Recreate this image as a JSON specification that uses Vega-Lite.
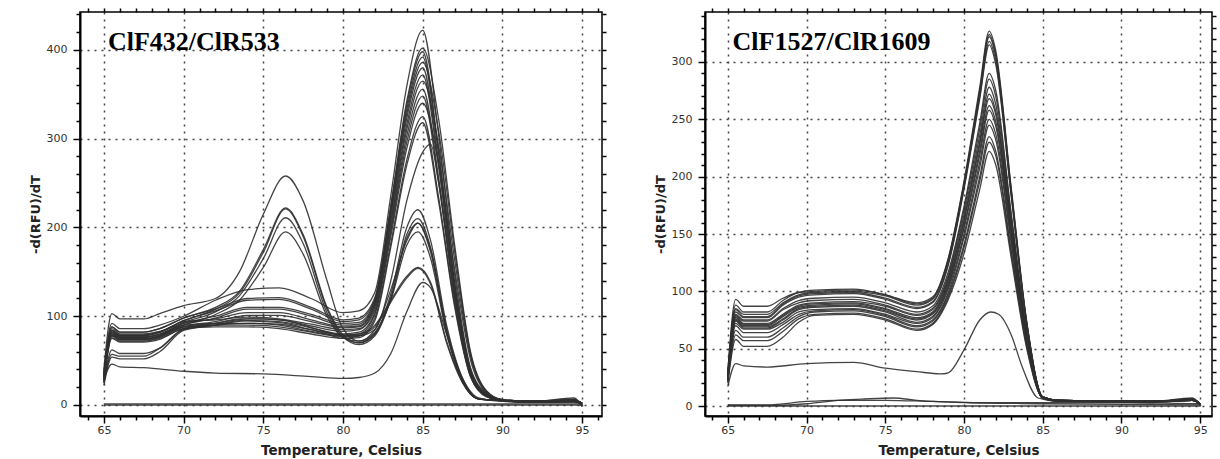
{
"$schema": "https://vega.github.io/schema/vega-lite/v6.json",
"background": "white",
"padding": {"left": 28, "top": 6, "right": 2, "bottom": 0},
"spacing": 45,
"config": {
 "view": {"stroke": "#000", "strokeWidth": 1.5},
 "axis": {"domainColor": "#000", "domainWidth": 2, "tickColor": "#000", "tickWidth": 1.5, "gridColor": "#444", "gridDash": [2, 5], "gridWidth": 1.5, "labelFont": "DejaVu Sans", "labelFontSize": 11, "labelColor": "#333", "labelPadding": 6, "titleFont": "DejaVu Sans", "titleFontSize": 13, "titleFontWeight": "bold", "titleColor": "#222", "labelOverlap": false, "labelFlush": false},
 "axisX": {"labelPadding": 1, "titlePadding": 8, "titleFontSize": 13.5},
 "axisY": {"titlePadding": 4}
},
"datasets": {
"L": [
{"c":1,"t":65,"v":38},{"c":1,"t":65.5,"v":92},{"c":1,"t":66,"v":86},{"c":1,"t":67.5,"v":86},{"c":1,"t":68.5,"v":90},{"c":1,"t":70,"v":100},{"c":1,"t":72,"v":118},{"c":1,"t":74,"v":130},{"c":1,"t":76,"v":132},{"c":1,"t":78,"v":120},{"c":1,"t":80,"v":104},{"c":1,"t":81,"v":106},{"c":1,"t":82,"v":127},{"c":1,"t":83,"v":236},{"c":1,"t":84,"v":359},{"c":1,"t":85,"v":422},{"c":1,"t":86,"v":304},{"c":1,"t":87,"v":148},{"c":1,"t":88,"v":42},{"c":1,"t":89,"v":13},{"c":1,"t":90,"v":5},{"c":1,"t":92,"v":4},{"c":1,"t":94.5,"v":5},{"c":1,"t":95,"v":2},
{"c":2,"t":65,"v":35},{"c":2,"t":65.5,"v":88},{"c":2,"t":66,"v":82},{"c":2,"t":67.5,"v":82},{"c":2,"t":68.5,"v":86},{"c":2,"t":70,"v":98},{"c":2,"t":72,"v":108},{"c":2,"t":74,"v":120},{"c":2,"t":76,"v":121},{"c":2,"t":78,"v":110},{"c":2,"t":80,"v":96},{"c":2,"t":81,"v":98},{"c":2,"t":82,"v":121},{"c":2,"t":83,"v":225},{"c":2,"t":84,"v":342},{"c":2,"t":85,"v":402},{"c":2,"t":86,"v":322},{"c":2,"t":87,"v":181},{"c":2,"t":88,"v":60},{"c":2,"t":89,"v":16},{"c":2,"t":90,"v":6},{"c":2,"t":92,"v":4},{"c":2,"t":94.5,"v":6},{"c":2,"t":95,"v":2},
{"c":3,"t":65,"v":32},{"c":3,"t":65.5,"v":84},{"c":3,"t":66,"v":78},{"c":3,"t":67.5,"v":78},{"c":3,"t":68.5,"v":82},{"c":3,"t":70,"v":95},{"c":3,"t":72,"v":106},{"c":3,"t":74,"v":118},{"c":3,"t":76,"v":119},{"c":3,"t":78,"v":108},{"c":3,"t":80,"v":94},{"c":3,"t":81,"v":96},{"c":3,"t":82,"v":119},{"c":3,"t":83,"v":223},{"c":3,"t":84,"v":338},{"c":3,"t":85,"v":398},{"c":3,"t":86,"v":287},{"c":3,"t":87,"v":139},{"c":3,"t":88,"v":40},{"c":3,"t":89,"v":12},{"c":3,"t":90,"v":5},{"c":3,"t":92,"v":4},{"c":3,"t":94.5,"v":5},{"c":3,"t":95,"v":2},
{"c":4,"t":65,"v":30},{"c":4,"t":65.5,"v":86},{"c":4,"t":66,"v":80},{"c":4,"t":67.5,"v":80},{"c":4,"t":68.5,"v":83},{"c":4,"t":70,"v":92},{"c":4,"t":72,"v":100},{"c":4,"t":74,"v":110},{"c":4,"t":76,"v":110},{"c":4,"t":78,"v":102},{"c":4,"t":80,"v":92},{"c":4,"t":81,"v":93},{"c":4,"t":82,"v":118},{"c":4,"t":83,"v":220},{"c":4,"t":84,"v":333},{"c":4,"t":85,"v":392},{"c":4,"t":86,"v":282},{"c":4,"t":87,"v":137},{"c":4,"t":88,"v":39},{"c":4,"t":89,"v":12},{"c":4,"t":90,"v":5},{"c":4,"t":92,"v":3},{"c":4,"t":94.5,"v":4},{"c":4,"t":95,"v":1},
{"c":5,"t":65,"v":34},{"c":5,"t":65.5,"v":82},{"c":5,"t":66,"v":76},{"c":5,"t":67.5,"v":76},{"c":5,"t":68.5,"v":79},{"c":5,"t":70,"v":90},{"c":5,"t":72,"v":98},{"c":5,"t":74,"v":108},{"c":5,"t":76,"v":108},{"c":5,"t":78,"v":100},{"c":5,"t":80,"v":90},{"c":5,"t":81,"v":91},{"c":5,"t":82,"v":116},{"c":5,"t":83,"v":216},{"c":5,"t":84,"v":328},{"c":5,"t":85,"v":386},{"c":5,"t":86,"v":309},{"c":5,"t":87,"v":174},{"c":5,"t":88,"v":58},{"c":5,"t":89,"v":15},{"c":5,"t":90,"v":6},{"c":5,"t":92,"v":4},{"c":5,"t":94.5,"v":8},{"c":5,"t":95,"v":-2},
{"c":6,"t":65,"v":30},{"c":6,"t":65.5,"v":80},{"c":6,"t":66,"v":75},{"c":6,"t":67.5,"v":75},{"c":6,"t":68.5,"v":78},{"c":6,"t":70,"v":92},{"c":6,"t":72,"v":97},{"c":6,"t":74,"v":104},{"c":6,"t":76,"v":104},{"c":6,"t":78,"v":96},{"c":6,"t":80,"v":88},{"c":6,"t":81,"v":89},{"c":6,"t":82,"v":114},{"c":6,"t":83,"v":213},{"c":6,"t":84,"v":323},{"c":6,"t":85,"v":380},{"c":6,"t":86,"v":274},{"c":6,"t":87,"v":133},{"c":6,"t":88,"v":38},{"c":6,"t":89,"v":11},{"c":6,"t":90,"v":5},{"c":6,"t":92,"v":4},{"c":6,"t":94.5,"v":5},{"c":6,"t":95,"v":2},
{"c":7,"t":65,"v":33},{"c":7,"t":65.5,"v":78},{"c":7,"t":66,"v":73},{"c":7,"t":67.5,"v":73},{"c":7,"t":68.5,"v":76},{"c":7,"t":70,"v":88},{"c":7,"t":72,"v":94},{"c":7,"t":74,"v":101},{"c":7,"t":76,"v":101},{"c":7,"t":78,"v":94},{"c":7,"t":80,"v":87},{"c":7,"t":81,"v":88},{"c":7,"t":82,"v":112},{"c":7,"t":83,"v":208},{"c":7,"t":84,"v":316},{"c":7,"t":85,"v":372},{"c":7,"t":86,"v":268},{"c":7,"t":87,"v":130},{"c":7,"t":88,"v":37},{"c":7,"t":89,"v":11},{"c":7,"t":90,"v":5},{"c":7,"t":92,"v":3},{"c":7,"t":94.5,"v":4},{"c":7,"t":95,"v":1},
{"c":8,"t":65,"v":28},{"c":8,"t":65.5,"v":84},{"c":8,"t":66,"v":79},{"c":8,"t":67.5,"v":79},{"c":8,"t":68.5,"v":82},{"c":8,"t":70,"v":94},{"c":8,"t":72,"v":96},{"c":8,"t":74,"v":99},{"c":8,"t":76,"v":97},{"c":8,"t":78,"v":91},{"c":8,"t":80,"v":85},{"c":8,"t":81,"v":86},{"c":8,"t":82,"v":110},{"c":8,"t":83,"v":204},{"c":8,"t":84,"v":310},{"c":8,"t":85,"v":365},{"c":8,"t":86,"v":292},{"c":8,"t":87,"v":164},{"c":8,"t":88,"v":55},{"c":8,"t":89,"v":15},{"c":8,"t":90,"v":6},{"c":8,"t":92,"v":4},{"c":8,"t":94.5,"v":6},{"c":8,"t":95,"v":0},
{"c":9,"t":65,"v":31},{"c":9,"t":65.5,"v":80},{"c":9,"t":66,"v":74},{"c":9,"t":67.5,"v":74},{"c":9,"t":68.5,"v":77},{"c":9,"t":70,"v":88},{"c":9,"t":72,"v":92},{"c":9,"t":74,"v":97},{"c":9,"t":76,"v":96},{"c":9,"t":78,"v":89},{"c":9,"t":80,"v":83},{"c":9,"t":81,"v":85},{"c":9,"t":82,"v":107},{"c":9,"t":83,"v":199},{"c":9,"t":84,"v":303},{"c":9,"t":85,"v":356},{"c":9,"t":86,"v":256},{"c":9,"t":87,"v":125},{"c":9,"t":88,"v":36},{"c":9,"t":89,"v":11},{"c":9,"t":90,"v":5},{"c":9,"t":92,"v":4},{"c":9,"t":94.5,"v":5},{"c":9,"t":95,"v":2},
{"c":10,"t":65,"v":29},{"c":10,"t":65.5,"v":76},{"c":10,"t":66,"v":72},{"c":10,"t":67.5,"v":72},{"c":10,"t":68.5,"v":75},{"c":10,"t":70,"v":86},{"c":10,"t":72,"v":90},{"c":10,"t":74,"v":95},{"c":10,"t":76,"v":94},{"c":10,"t":78,"v":87},{"c":10,"t":80,"v":80},{"c":10,"t":81,"v":82},{"c":10,"t":82,"v":104},{"c":10,"t":83,"v":195},{"c":10,"t":84,"v":296},{"c":10,"t":85,"v":348},{"c":10,"t":86,"v":251},{"c":10,"t":87,"v":122},{"c":10,"t":88,"v":35},{"c":10,"t":89,"v":10},{"c":10,"t":90,"v":5},{"c":10,"t":92,"v":3},{"c":10,"t":94.5,"v":4},{"c":10,"t":95,"v":1},
{"c":11,"t":65,"v":27},{"c":11,"t":65.5,"v":82},{"c":11,"t":66,"v":77},{"c":11,"t":67.5,"v":77},{"c":11,"t":68.5,"v":80},{"c":11,"t":70,"v":90},{"c":11,"t":72,"v":92},{"c":11,"t":74,"v":92},{"c":11,"t":76,"v":91},{"c":11,"t":78,"v":85},{"c":11,"t":80,"v":79},{"c":11,"t":81,"v":80},{"c":11,"t":82,"v":102},{"c":11,"t":83,"v":190},{"c":11,"t":84,"v":289},{"c":11,"t":85,"v":340},{"c":11,"t":86,"v":272},{"c":11,"t":87,"v":153},{"c":11,"t":88,"v":51},{"c":11,"t":89,"v":14},{"c":11,"t":90,"v":6},{"c":11,"t":92,"v":4},{"c":11,"t":94.5,"v":7},{"c":11,"t":95,"v":-1},
{"c":12,"t":65,"v":30},{"c":12,"t":65.5,"v":78},{"c":12,"t":66,"v":74},{"c":12,"t":67.5,"v":74},{"c":12,"t":68.5,"v":77},{"c":12,"t":70,"v":88},{"c":12,"t":72,"v":90},{"c":12,"t":74,"v":90},{"c":12,"t":76,"v":88},{"c":12,"t":78,"v":82},{"c":12,"t":80,"v":77},{"c":12,"t":81,"v":78},{"c":12,"t":82,"v":98},{"c":12,"t":83,"v":182},{"c":12,"t":84,"v":276},{"c":12,"t":85,"v":325},{"c":12,"t":86,"v":234},{"c":12,"t":87,"v":114},{"c":12,"t":88,"v":33},{"c":12,"t":89,"v":10},{"c":12,"t":90,"v":5},{"c":12,"t":92,"v":4},{"c":12,"t":94.5,"v":5},{"c":12,"t":95,"v":2},
{"c":13,"t":65,"v":26},{"c":13,"t":65.5,"v":75},{"c":13,"t":66,"v":71},{"c":13,"t":67.5,"v":71},{"c":13,"t":68.5,"v":74},{"c":13,"t":70,"v":86},{"c":13,"t":72,"v":88},{"c":13,"t":74,"v":88},{"c":13,"t":76,"v":86},{"c":13,"t":78,"v":80},{"c":13,"t":80,"v":75},{"c":13,"t":81,"v":76},{"c":13,"t":82,"v":95},{"c":13,"t":83,"v":178},{"c":13,"t":84,"v":270},{"c":13,"t":85,"v":318},{"c":13,"t":86,"v":229},{"c":13,"t":87,"v":111},{"c":13,"t":88,"v":32},{"c":13,"t":89,"v":10},{"c":13,"t":90,"v":5},{"c":13,"t":92,"v":3},{"c":13,"t":94.5,"v":4},{"c":13,"t":95,"v":1},
{"c":14,"t":65,"v":25},{"c":14,"t":65.5,"v":62},{"c":14,"t":66,"v":58},{"c":14,"t":67.5,"v":58},{"c":14,"t":68.5,"v":64},{"c":14,"t":70,"v":85},{"c":14,"t":72,"v":90},{"c":14,"t":74,"v":92},{"c":14,"t":76,"v":90},{"c":14,"t":78,"v":83},{"c":14,"t":80,"v":78},{"c":14,"t":81,"v":78},{"c":14,"t":82,"v":85},{"c":14,"t":83,"v":140},{"c":14,"t":84,"v":230},{"c":14,"t":85,"v":285},{"c":14,"t":85.5,"v":294},{"c":14,"t":86,"v":250},{"c":14,"t":87,"v":120},{"c":14,"t":88,"v":32},{"c":14,"t":89,"v":9},{"c":14,"t":90,"v":5},{"c":14,"t":92,"v":4},{"c":14,"t":94.5,"v":5},{"c":14,"t":95,"v":2},
{"c":15,"t":65,"v":40},{"c":15,"t":65.5,"v":103},{"c":15,"t":66,"v":97},{"c":15,"t":67.5,"v":97},{"c":15,"t":68.5,"v":103},{"c":15,"t":70,"v":112},{"c":15,"t":72,"v":120},{"c":15,"t":73.5,"v":150},{"c":15,"t":75,"v":215},{"c":15,"t":76.4,"v":258},{"c":15,"t":77.5,"v":230},{"c":15,"t":79,"v":140},{"c":15,"t":80,"v":86},{"c":15,"t":81,"v":72},{"c":15,"t":82,"v":85},{"c":15,"t":83,"v":130},{"c":15,"t":84,"v":185},{"c":15,"t":84.7,"v":205},{"c":15,"t":85.5,"v":175},{"c":15,"t":86.5,"v":85},{"c":15,"t":87.5,"v":28},{"c":15,"t":88.5,"v":7},{"c":15,"t":90,"v":5},{"c":15,"t":92,"v":4},{"c":15,"t":94.5,"v":5},{"c":15,"t":95,"v":2},
{"c":16,"t":65,"v":35},{"c":16,"t":65.5,"v":88},{"c":16,"t":66,"v":82},{"c":16,"t":67.5,"v":82},{"c":16,"t":68.5,"v":86},{"c":16,"t":70,"v":98},{"c":16,"t":72,"v":110},{"c":16,"t":73.5,"v":128},{"c":16,"t":75,"v":175},{"c":16,"t":76.4,"v":222},{"c":16,"t":77.5,"v":192},{"c":16,"t":79,"v":110},{"c":16,"t":80,"v":79},{"c":16,"t":81,"v":70},{"c":16,"t":82,"v":80},{"c":16,"t":83,"v":125},{"c":16,"t":84,"v":200},{"c":16,"t":84.7,"v":220},{"c":16,"t":85.5,"v":185},{"c":16,"t":86.5,"v":90},{"c":16,"t":87.5,"v":30},{"c":16,"t":88.5,"v":7},{"c":16,"t":90,"v":5},{"c":16,"t":92,"v":4},{"c":16,"t":94.5,"v":5},{"c":16,"t":95,"v":2},
{"c":17,"t":65,"v":32},{"c":17,"t":65.5,"v":84},{"c":17,"t":66,"v":78},{"c":17,"t":67.5,"v":78},{"c":17,"t":68.5,"v":82},{"c":17,"t":70,"v":95},{"c":17,"t":72,"v":108},{"c":17,"t":73.5,"v":126},{"c":17,"t":75,"v":172},{"c":17,"t":76.4,"v":221},{"c":17,"t":77.5,"v":190},{"c":17,"t":79,"v":108},{"c":17,"t":80,"v":77},{"c":17,"t":81,"v":68},{"c":17,"t":82,"v":78},{"c":17,"t":83,"v":120},{"c":17,"t":84,"v":192},{"c":17,"t":84.7,"v":210},{"c":17,"t":85.5,"v":177},{"c":17,"t":86.5,"v":85},{"c":17,"t":87.5,"v":28},{"c":17,"t":88.5,"v":7},{"c":17,"t":90,"v":5},{"c":17,"t":92,"v":3},{"c":17,"t":94.5,"v":4},{"c":17,"t":95,"v":1},
{"c":18,"t":65,"v":33},{"c":18,"t":65.5,"v":82},{"c":18,"t":66,"v":76},{"c":18,"t":67.5,"v":76},{"c":18,"t":68.5,"v":80},{"c":18,"t":70,"v":93},{"c":18,"t":72,"v":105},{"c":18,"t":73.5,"v":123},{"c":18,"t":75,"v":165},{"c":18,"t":76.4,"v":211},{"c":18,"t":77.5,"v":182},{"c":18,"t":79,"v":104},{"c":18,"t":80,"v":76},{"c":18,"t":81,"v":70},{"c":18,"t":82,"v":80},{"c":18,"t":83,"v":120},{"c":18,"t":84,"v":188},{"c":18,"t":84.7,"v":205},{"c":18,"t":85.5,"v":172},{"c":18,"t":86.5,"v":83},{"c":18,"t":87.5,"v":27},{"c":18,"t":88.5,"v":7},{"c":18,"t":90,"v":5},{"c":18,"t":92,"v":4},{"c":18,"t":94.5,"v":6},{"c":18,"t":95,"v":0},
{"c":19,"t":65,"v":30},{"c":19,"t":65.5,"v":80},{"c":19,"t":66,"v":74},{"c":19,"t":67.5,"v":74},{"c":19,"t":68.5,"v":78},{"c":19,"t":70,"v":90},{"c":19,"t":72,"v":102},{"c":19,"t":73.5,"v":118},{"c":19,"t":75,"v":155},{"c":19,"t":76.4,"v":195},{"c":19,"t":77.5,"v":170},{"c":19,"t":79,"v":100},{"c":19,"t":80,"v":76},{"c":19,"t":81,"v":72},{"c":19,"t":82,"v":82},{"c":19,"t":83,"v":118},{"c":19,"t":84,"v":180},{"c":19,"t":84.7,"v":195},{"c":19,"t":85.5,"v":165},{"c":19,"t":86.5,"v":80},{"c":19,"t":87.5,"v":26},{"c":19,"t":88.5,"v":7},{"c":19,"t":90,"v":5},{"c":19,"t":92,"v":4},{"c":19,"t":94.5,"v":5},{"c":19,"t":95,"v":2},
{"c":20,"t":65,"v":25},{"c":20,"t":65.5,"v":57},{"c":20,"t":66,"v":55},{"c":20,"t":67.5,"v":55},{"c":20,"t":68.5,"v":64},{"c":20,"t":70,"v":86},{"c":20,"t":72,"v":92},{"c":20,"t":73.5,"v":97},{"c":20,"t":75,"v":97},{"c":20,"t":76.4,"v":95},{"c":20,"t":77.5,"v":90},{"c":20,"t":79,"v":82},{"c":20,"t":80,"v":78},{"c":20,"t":81,"v":80},{"c":20,"t":82,"v":90},{"c":20,"t":83,"v":118},{"c":20,"t":84,"v":145},{"c":20,"t":84.7,"v":155},{"c":20,"t":85.5,"v":138},{"c":20,"t":86.5,"v":72},{"c":20,"t":87.5,"v":26},{"c":20,"t":88.5,"v":7},{"c":20,"t":90,"v":5},{"c":20,"t":92,"v":4},{"c":20,"t":94.5,"v":5},{"c":20,"t":95,"v":2},
{"c":21,"t":65,"v":22},{"c":21,"t":65.5,"v":54},{"c":21,"t":66,"v":52},{"c":21,"t":67.5,"v":52},{"c":21,"t":68.5,"v":60},{"c":21,"t":70,"v":84},{"c":21,"t":72,"v":90},{"c":21,"t":73.5,"v":95},{"c":21,"t":75,"v":94},{"c":21,"t":76.4,"v":92},{"c":21,"t":77.5,"v":87},{"c":21,"t":79,"v":80},{"c":21,"t":80,"v":75},{"c":21,"t":81,"v":78},{"c":21,"t":82,"v":88},{"c":21,"t":83,"v":116},{"c":21,"t":84,"v":143},{"c":21,"t":84.7,"v":154},{"c":21,"t":85.5,"v":136},{"c":21,"t":86.5,"v":70},{"c":21,"t":87.5,"v":25},{"c":21,"t":88.5,"v":7},{"c":21,"t":90,"v":5},{"c":21,"t":92,"v":3},{"c":21,"t":94.5,"v":4},{"c":21,"t":95,"v":1},
{"c":22,"t":65,"v":28},{"c":22,"t":65.5,"v":46},{"c":22,"t":66,"v":43},{"c":22,"t":67.5,"v":42},{"c":22,"t":70,"v":38},{"c":22,"t":72,"v":36},{"c":22,"t":75,"v":35},{"c":22,"t":78,"v":32},{"c":22,"t":80,"v":30},{"c":22,"t":81,"v":31},{"c":22,"t":82,"v":36},{"c":22,"t":83,"v":58},{"c":22,"t":84,"v":105},{"c":22,"t":85,"v":138},{"c":22,"t":85.5,"v":132},{"c":22,"t":86.5,"v":80},{"c":22,"t":87.5,"v":30},{"c":22,"t":88.5,"v":8},{"c":22,"t":90,"v":4},{"c":22,"t":92,"v":3},{"c":22,"t":94.5,"v":3},{"c":22,"t":95,"v":2},
{"c":23,"t":65,"v":0},{"c":23,"t":95,"v":0},
{"c":24,"t":65,"v":1.2},{"c":24,"t":95,"v":1.2}
],
"R": [
{"c":1,"t":65,"v":30},{"c":1,"t":65.5,"v":93},{"c":1,"t":66,"v":87},{"c":1,"t":67.5,"v":87},{"c":1,"t":68.5,"v":94},{"c":1,"t":69.5,"v":99},{"c":1,"t":70.5,"v":100},{"c":1,"t":73,"v":101},{"c":1,"t":75,"v":97},{"c":1,"t":77,"v":90},{"c":1,"t":78,"v":95},{"c":1,"t":79,"v":129},{"c":1,"t":80,"v":196},{"c":1,"t":81,"v":278},{"c":1,"t":81.6,"v":327},{"c":1,"t":82,"v":311},{"c":1,"t":83,"v":190},{"c":1,"t":84,"v":72},{"c":1,"t":85,"v":8},{"c":1,"t":86,"v":5},{"c":1,"t":92,"v":4},{"c":1,"t":94.5,"v":6},{"c":1,"t":95,"v":2},
{"c":2,"t":65,"v":29},{"c":2,"t":65.5,"v":88},{"c":2,"t":66,"v":82},{"c":2,"t":67.5,"v":82},{"c":2,"t":68.5,"v":92},{"c":2,"t":69.5,"v":99},{"c":2,"t":70.5,"v":101},{"c":2,"t":73,"v":102},{"c":2,"t":75,"v":97},{"c":2,"t":77,"v":89},{"c":2,"t":78,"v":94},{"c":2,"t":79,"v":128},{"c":2,"t":80,"v":194},{"c":2,"t":81,"v":275},{"c":2,"t":81.6,"v":324},{"c":2,"t":82,"v":308},{"c":2,"t":83,"v":188},{"c":2,"t":84,"v":71},{"c":2,"t":85,"v":8},{"c":2,"t":86,"v":5},{"c":2,"t":92,"v":4},{"c":2,"t":94.5,"v":6},{"c":2,"t":95,"v":2},
{"c":3,"t":65,"v":28},{"c":3,"t":65.5,"v":85},{"c":3,"t":66,"v":80},{"c":3,"t":67.5,"v":80},{"c":3,"t":68.5,"v":90},{"c":3,"t":69.5,"v":97},{"c":3,"t":70.5,"v":99},{"c":3,"t":73,"v":100},{"c":3,"t":75,"v":96},{"c":3,"t":77,"v":88},{"c":3,"t":78,"v":93},{"c":3,"t":79,"v":127},{"c":3,"t":80,"v":193},{"c":3,"t":81,"v":274},{"c":3,"t":81.6,"v":322},{"c":3,"t":82,"v":306},{"c":3,"t":83,"v":187},{"c":3,"t":84,"v":71},{"c":3,"t":85,"v":8},{"c":3,"t":86,"v":5},{"c":3,"t":92,"v":4},{"c":3,"t":94.5,"v":7},{"c":3,"t":95,"v":1},
{"c":4,"t":65,"v":27},{"c":4,"t":65.5,"v":84},{"c":4,"t":66,"v":78},{"c":4,"t":67.5,"v":78},{"c":4,"t":68.5,"v":89},{"c":4,"t":69.5,"v":96},{"c":4,"t":70.5,"v":98},{"c":4,"t":73,"v":99},{"c":4,"t":75,"v":94},{"c":4,"t":77,"v":86},{"c":4,"t":78,"v":91},{"c":4,"t":79,"v":124},{"c":4,"t":80,"v":191},{"c":4,"t":81,"v":270},{"c":4,"t":81.6,"v":318},{"c":4,"t":82,"v":302},{"c":4,"t":83,"v":184},{"c":4,"t":84,"v":70},{"c":4,"t":85,"v":8},{"c":4,"t":86,"v":5},{"c":4,"t":92,"v":4},{"c":4,"t":94.5,"v":5},{"c":4,"t":95,"v":2},
{"c":5,"t":65,"v":27},{"c":5,"t":65.5,"v":82},{"c":5,"t":66,"v":77},{"c":5,"t":67.5,"v":77},{"c":5,"t":68.5,"v":88},{"c":5,"t":69.5,"v":95},{"c":5,"t":70.5,"v":97},{"c":5,"t":73,"v":98},{"c":5,"t":75,"v":93},{"c":5,"t":77,"v":85},{"c":5,"t":78,"v":90},{"c":5,"t":79,"v":123},{"c":5,"t":80,"v":189},{"c":5,"t":81,"v":268},{"c":5,"t":81.6,"v":315},{"c":5,"t":82,"v":299},{"c":5,"t":83,"v":183},{"c":5,"t":84,"v":69},{"c":5,"t":85,"v":8},{"c":5,"t":86,"v":5},{"c":5,"t":92,"v":4},{"c":5,"t":94.5,"v":6},{"c":5,"t":95,"v":2},
{"c":6,"t":65,"v":26},{"c":6,"t":65.5,"v":80},{"c":6,"t":66,"v":75},{"c":6,"t":67.5,"v":75},{"c":6,"t":68.5,"v":85},{"c":6,"t":69.5,"v":92},{"c":6,"t":70.5,"v":94},{"c":6,"t":73,"v":95},{"c":6,"t":75,"v":90},{"c":6,"t":77,"v":82},{"c":6,"t":78,"v":87},{"c":6,"t":79,"v":117},{"c":6,"t":80,"v":174},{"c":6,"t":81,"v":247},{"c":6,"t":81.6,"v":290},{"c":6,"t":82,"v":276},{"c":6,"t":83,"v":168},{"c":6,"t":84,"v":64},{"c":6,"t":85,"v":7},{"c":6,"t":86,"v":5},{"c":6,"t":92,"v":4},{"c":6,"t":94.5,"v":5},{"c":6,"t":95,"v":2},
{"c":7,"t":65,"v":26},{"c":7,"t":65.5,"v":79},{"c":7,"t":66,"v":74},{"c":7,"t":67.5,"v":74},{"c":7,"t":68.5,"v":84},{"c":7,"t":69.5,"v":90},{"c":7,"t":70.5,"v":92},{"c":7,"t":73,"v":93},{"c":7,"t":75,"v":88},{"c":7,"t":77,"v":80},{"c":7,"t":78,"v":85},{"c":7,"t":79,"v":114},{"c":7,"t":80,"v":171},{"c":7,"t":81,"v":242},{"c":7,"t":81.6,"v":285},{"c":7,"t":82,"v":271},{"c":7,"t":83,"v":165},{"c":7,"t":84,"v":63},{"c":7,"t":85,"v":7},{"c":7,"t":86,"v":5},{"c":7,"t":92,"v":4},{"c":7,"t":94.5,"v":6},{"c":7,"t":95,"v":1},
{"c":8,"t":65,"v":25},{"c":8,"t":65.5,"v":78},{"c":8,"t":66,"v":72},{"c":8,"t":67.5,"v":72},{"c":8,"t":68.5,"v":80},{"c":8,"t":69.5,"v":88},{"c":8,"t":70.5,"v":90},{"c":8,"t":73,"v":91},{"c":8,"t":75,"v":87},{"c":8,"t":77,"v":79},{"c":8,"t":78,"v":84},{"c":8,"t":79,"v":112},{"c":8,"t":80,"v":167},{"c":8,"t":81,"v":236},{"c":8,"t":81.6,"v":278},{"c":8,"t":82,"v":264},{"c":8,"t":83,"v":161},{"c":8,"t":84,"v":61},{"c":8,"t":85,"v":7},{"c":8,"t":86,"v":5},{"c":8,"t":92,"v":4},{"c":8,"t":94.5,"v":5},{"c":8,"t":95,"v":2},
{"c":9,"t":65,"v":25},{"c":9,"t":65.5,"v":77},{"c":9,"t":66,"v":71},{"c":9,"t":67.5,"v":71},{"c":9,"t":68.5,"v":79},{"c":9,"t":69.5,"v":87},{"c":9,"t":70.5,"v":89},{"c":9,"t":73,"v":90},{"c":9,"t":75,"v":85},{"c":9,"t":77,"v":77},{"c":9,"t":78,"v":82},{"c":9,"t":79,"v":110},{"c":9,"t":80,"v":163},{"c":9,"t":81,"v":231},{"c":9,"t":81.6,"v":272},{"c":9,"t":82,"v":258},{"c":9,"t":83,"v":158},{"c":9,"t":84,"v":60},{"c":9,"t":85,"v":7},{"c":9,"t":86,"v":5},{"c":9,"t":92,"v":3},{"c":9,"t":94.5,"v":5},{"c":9,"t":95,"v":2},
{"c":10,"t":65,"v":24},{"c":10,"t":65.5,"v":76},{"c":10,"t":66,"v":70},{"c":10,"t":67.5,"v":70},{"c":10,"t":68.5,"v":78},{"c":10,"t":69.5,"v":86},{"c":10,"t":70.5,"v":88},{"c":10,"t":73,"v":89},{"c":10,"t":75,"v":84},{"c":10,"t":77,"v":76},{"c":10,"t":78,"v":81},{"c":10,"t":79,"v":108},{"c":10,"t":80,"v":161},{"c":10,"t":81,"v":228},{"c":10,"t":81.6,"v":268},{"c":10,"t":82,"v":255},{"c":10,"t":83,"v":155},{"c":10,"t":84,"v":59},{"c":10,"t":85,"v":7},{"c":10,"t":86,"v":5},{"c":10,"t":92,"v":4},{"c":10,"t":94.5,"v":6},{"c":10,"t":95,"v":2},
{"c":11,"t":65,"v":24},{"c":11,"t":65.5,"v":75},{"c":11,"t":66,"v":69},{"c":11,"t":67.5,"v":69},{"c":11,"t":68.5,"v":76},{"c":11,"t":69.5,"v":85},{"c":11,"t":70.5,"v":87},{"c":11,"t":73,"v":88},{"c":11,"t":75,"v":83},{"c":11,"t":77,"v":75},{"c":11,"t":78,"v":80},{"c":11,"t":79,"v":106},{"c":11,"t":80,"v":157},{"c":11,"t":81,"v":223},{"c":11,"t":81.6,"v":262},{"c":11,"t":82,"v":249},{"c":11,"t":83,"v":152},{"c":11,"t":84,"v":58},{"c":11,"t":85,"v":7},{"c":11,"t":86,"v":5},{"c":11,"t":92,"v":4},{"c":11,"t":94.5,"v":5},{"c":11,"t":95,"v":1},
{"c":12,"t":65,"v":23},{"c":12,"t":65.5,"v":74},{"c":12,"t":66,"v":68},{"c":12,"t":67.5,"v":68},{"c":12,"t":68.5,"v":75},{"c":12,"t":69.5,"v":84},{"c":12,"t":70.5,"v":86},{"c":12,"t":73,"v":87},{"c":12,"t":75,"v":82},{"c":12,"t":77,"v":73},{"c":12,"t":78,"v":78},{"c":12,"t":79,"v":104},{"c":12,"t":80,"v":155},{"c":12,"t":81,"v":219},{"c":12,"t":81.6,"v":258},{"c":12,"t":82,"v":245},{"c":12,"t":83,"v":150},{"c":12,"t":84,"v":57},{"c":12,"t":85,"v":7},{"c":12,"t":86,"v":5},{"c":12,"t":92,"v":4},{"c":12,"t":94.5,"v":6},{"c":12,"t":95,"v":2},
{"c":13,"t":65,"v":23},{"c":13,"t":65.5,"v":72},{"c":13,"t":66,"v":67},{"c":13,"t":67.5,"v":67},{"c":13,"t":68.5,"v":73},{"c":13,"t":69.5,"v":82},{"c":13,"t":70.5,"v":84},{"c":13,"t":73,"v":85},{"c":13,"t":75,"v":80},{"c":13,"t":77,"v":72},{"c":13,"t":78,"v":77},{"c":13,"t":79,"v":102},{"c":13,"t":80,"v":150},{"c":13,"t":81,"v":213},{"c":13,"t":81.6,"v":250},{"c":13,"t":82,"v":238},{"c":13,"t":83,"v":145},{"c":13,"t":84,"v":55},{"c":13,"t":85,"v":7},{"c":13,"t":86,"v":5},{"c":13,"t":92,"v":4},{"c":13,"t":94.5,"v":5},{"c":13,"t":95,"v":2},
{"c":14,"t":65,"v":22},{"c":14,"t":65.5,"v":70},{"c":14,"t":66,"v":64},{"c":14,"t":67.5,"v":64},{"c":14,"t":68.5,"v":71},{"c":14,"t":69.5,"v":80},{"c":14,"t":70.5,"v":83},{"c":14,"t":73,"v":84},{"c":14,"t":75,"v":79},{"c":14,"t":77,"v":70},{"c":14,"t":78,"v":75},{"c":14,"t":79,"v":99},{"c":14,"t":80,"v":147},{"c":14,"t":81,"v":208},{"c":14,"t":81.6,"v":245},{"c":14,"t":82,"v":233},{"c":14,"t":83,"v":142},{"c":14,"t":84,"v":54},{"c":14,"t":85,"v":7},{"c":14,"t":86,"v":4},{"c":14,"t":92,"v":4},{"c":14,"t":94.5,"v":6},{"c":14,"t":95,"v":1},
{"c":15,"t":65,"v":22},{"c":15,"t":65.5,"v":66},{"c":15,"t":66,"v":60},{"c":15,"t":67.5,"v":60},{"c":15,"t":68.5,"v":68},{"c":15,"t":69.5,"v":78},{"c":15,"t":70.5,"v":82},{"c":15,"t":73,"v":83},{"c":15,"t":75,"v":78},{"c":15,"t":77,"v":69},{"c":15,"t":78,"v":74},{"c":15,"t":79,"v":97},{"c":15,"t":80,"v":141},{"c":15,"t":81,"v":200},{"c":15,"t":81.6,"v":235},{"c":15,"t":82,"v":223},{"c":15,"t":83,"v":136},{"c":15,"t":84,"v":52},{"c":15,"t":85,"v":7},{"c":15,"t":86,"v":4},{"c":15,"t":92,"v":3},{"c":15,"t":94.5,"v":5},{"c":15,"t":95,"v":2},
{"c":16,"t":65,"v":21},{"c":16,"t":65.5,"v":62},{"c":16,"t":66,"v":57},{"c":16,"t":67.5,"v":57},{"c":16,"t":68.5,"v":65},{"c":16,"t":69.5,"v":76},{"c":16,"t":70.5,"v":80},{"c":16,"t":73,"v":81},{"c":16,"t":75,"v":76},{"c":16,"t":77,"v":67},{"c":16,"t":78,"v":72},{"c":16,"t":79,"v":95},{"c":16,"t":80,"v":138},{"c":16,"t":81,"v":196},{"c":16,"t":81.6,"v":230},{"c":16,"t":82,"v":219},{"c":16,"t":83,"v":133},{"c":16,"t":84,"v":51},{"c":16,"t":85,"v":7},{"c":16,"t":86,"v":4},{"c":16,"t":92,"v":4},{"c":16,"t":94.5,"v":6},{"c":16,"t":95,"v":2},
{"c":17,"t":65,"v":20},{"c":17,"t":65.5,"v":58},{"c":17,"t":66,"v":52},{"c":17,"t":67.5,"v":52},{"c":17,"t":68.5,"v":60},{"c":17,"t":69.5,"v":73},{"c":17,"t":70.5,"v":79},{"c":17,"t":73,"v":80},{"c":17,"t":75,"v":75},{"c":17,"t":77,"v":66},{"c":17,"t":78,"v":71},{"c":17,"t":79,"v":93},{"c":17,"t":80,"v":133},{"c":17,"t":81,"v":189},{"c":17,"t":81.6,"v":222},{"c":17,"t":82,"v":211},{"c":17,"t":83,"v":129},{"c":17,"t":84,"v":49},{"c":17,"t":85,"v":7},{"c":17,"t":86,"v":4},{"c":17,"t":92,"v":4},{"c":17,"t":94.5,"v":5},{"c":17,"t":95,"v":2},
{"c":18,"t":65,"v":17},{"c":18,"t":65.5,"v":37},{"c":18,"t":66,"v":35},{"c":18,"t":67.5,"v":34},{"c":18,"t":70,"v":37},{"c":18,"t":73,"v":38},{"c":18,"t":75,"v":33},{"c":18,"t":77,"v":30},{"c":18,"t":78.5,"v":28},{"c":18,"t":79,"v":29},{"c":18,"t":80,"v":49},{"c":18,"t":81,"v":75},{"c":18,"t":81.7,"v":82},{"c":18,"t":82.2,"v":80},{"c":18,"t":83,"v":62},{"c":18,"t":83.7,"v":34},{"c":18,"t":84.7,"v":7},{"c":18,"t":86,"v":4},{"c":18,"t":92,"v":4},{"c":18,"t":94.5,"v":5},{"c":18,"t":95,"v":2},
{"c":19,"t":65,"v":0},{"c":19,"t":95,"v":0},
{"c":20,"t":65,"v":1},{"c":20,"t":67.5,"v":1},{"c":20,"t":70,"v":4},{"c":20,"t":72,"v":5},{"c":20,"t":75,"v":5},{"c":20,"t":78,"v":4},{"c":20,"t":81,"v":3},{"c":20,"t":85,"v":3},{"c":20,"t":90,"v":3},{"c":20,"t":95,"v":2},
{"c":21,"t":65,"v":0.5},{"c":21,"t":68,"v":0.5},{"c":21,"t":70,"v":2},{"c":21,"t":72,"v":5},{"c":21,"t":73.5,"v":6},{"c":21,"t":75.5,"v":7},{"c":21,"t":77,"v":5},{"c":21,"t":80,"v":3},{"c":21,"t":85,"v":2},{"c":21,"t":95,"v":1}
]
},
"hconcat": [
{
 "width": 522, "height": 404,
 "layer": [
  {
   "data": {"name": "L"},
   "mark": {"type": "line", "interpolate": "monotone", "stroke": "#303030", "strokeWidth": 1.3, "opacity": 0.9},
   "encoding": {
    "x": {"field": "t", "type": "quantitative", "scale": {"domain": [63.5, 96.25], "nice": false, "zero": false},
     "axis": {"title": "Temperature, Celsius", "values": [64,65,66,67,68,69,70,71,72,73,74,75,76,77,78,79,80,81,82,83,84,85,86,87,88,89,90,91,92,93,94,95,96],
      "labelExpr": "datum.value % 5 === 0 ? datum.label : ''",
      "tickSize": {"condition": {"test": "datum.value % 5 === 0", "value": 7}, "value": 4},
      "gridOpacity": {"condition": {"test": "datum.value % 5 === 0", "value": 1}, "value": 0}}},
    "y": {"field": "v", "type": "quantitative", "scale": {"domain": [-12.4, 442.8], "nice": false, "zero": false},
     "axis": {"title": "-d(RFU)/dT", "values": [0,20,40,60,80,100,120,140,160,180,200,220,240,260,280,300,320,340,360,380,400,420,440],
      "labelExpr": "datum.value % 100 === 0 ? datum.label : ''",
      "tickSize": {"condition": {"test": "datum.value % 100 === 0", "value": 7}, "value": 4},
      "gridOpacity": {"condition": {"test": "datum.value % 100 === 0", "value": 1}, "value": 0}}},
    "detail": {"field": "c", "type": "nominal"}
   }
  },
  {
   "data": {"values": [{"label": "ClF432/ClR533"}]},
   "mark": {"type": "text", "font": "Liberation Serif", "fontWeight": "bold", "fontSize": 26, "align": "left", "baseline": "alphabetic", "color": "#000"},
   "encoding": {
    "x": {"datum": 65.25, "type": "quantitative", "axis": {"orient": "top", "title": null, "labels": false, "grid": false, "domain": false, "values": [64,65,66,67,68,69,70,71,72,73,74,75,76,77,78,79,80,81,82,83,84,85,86,87,88,89,90,91,92,93,94,95,96], "tickSize": 4}},
    "y": {"datum": 400, "type": "quantitative", "axis": {"orient": "right", "title": null, "labels": false, "grid": false, "domain": false, "values": [0,20,40,60,80,100,120,140,160,180,200,220,240,260,280,300,320,340,360,380,400,420,440], "tickSize": 4}},
    "text": {"field": "label"}
   }
  }
 ],
 "resolve": {"axis": {"x": "independent", "y": "independent"}}
},
{
 "width": 507, "height": 404,
 "layer": [
  {
   "data": {"name": "R"},
   "mark": {"type": "line", "interpolate": "monotone", "stroke": "#303030", "strokeWidth": 1.3, "opacity": 0.9},
   "encoding": {
    "x": {"field": "t", "type": "quantitative", "scale": {"domain": [63.55, 95.75], "nice": false, "zero": false},
     "axis": {"title": "Temperature, Celsius", "values": [64,65,66,67,68,69,70,71,72,73,74,75,76,77,78,79,80,81,82,83,84,85,86,87,88,89,90,91,92,93,94,95],
      "labelExpr": "datum.value % 5 === 0 ? datum.label : ''",
      "tickSize": {"condition": {"test": "datum.value % 5 === 0", "value": 7}, "value": 4},
      "gridOpacity": {"condition": {"test": "datum.value % 5 === 0", "value": 1}, "value": 0}}},
    "y": {"field": "v", "type": "quantitative", "scale": {"domain": [-8.7, 343.6], "nice": false, "zero": false},
     "axis": {"title": "-d(RFU)/dT", "values": [0,10,20,30,40,50,60,70,80,90,100,110,120,130,140,150,160,170,180,190,200,210,220,230,240,250,260,270,280,290,300,310,320,330,340],
      "labelExpr": "datum.value % 50 === 0 ? datum.label : ''",
      "tickSize": {"condition": {"test": "datum.value % 50 === 0", "value": 7}, "value": 4},
      "gridOpacity": {"condition": {"test": "datum.value % 50 === 0", "value": 1}, "value": 0}}},
    "detail": {"field": "c", "type": "nominal"}
   }
  },
  {
   "data": {"values": [{"label": "ClF1527/ClR1609"}]},
   "mark": {"type": "text", "font": "Liberation Serif", "fontWeight": "bold", "fontSize": 26, "align": "left", "baseline": "alphabetic", "color": "#000"},
   "encoding": {
    "x": {"datum": 65.3, "type": "quantitative", "axis": {"orient": "top", "title": null, "labels": false, "grid": false, "domain": false, "values": [64,65,66,67,68,69,70,71,72,73,74,75,76,77,78,79,80,81,82,83,84,85,86,87,88,89,90,91,92,93,94,95], "tickSize": 4}},
    "y": {"datum": 310.5, "type": "quantitative", "axis": {"orient": "right", "title": null, "labels": false, "grid": false, "domain": false, "values": [0,10,20,30,40,50,60,70,80,90,100,110,120,130,140,150,160,170,180,190,200,210,220,230,240,250,260,270,280,290,300,310,320,330,340], "tickSize": 4}},
    "text": {"field": "label"}
   }
  }
 ],
 "resolve": {"axis": {"x": "independent", "y": "independent"}}
}
]
}
